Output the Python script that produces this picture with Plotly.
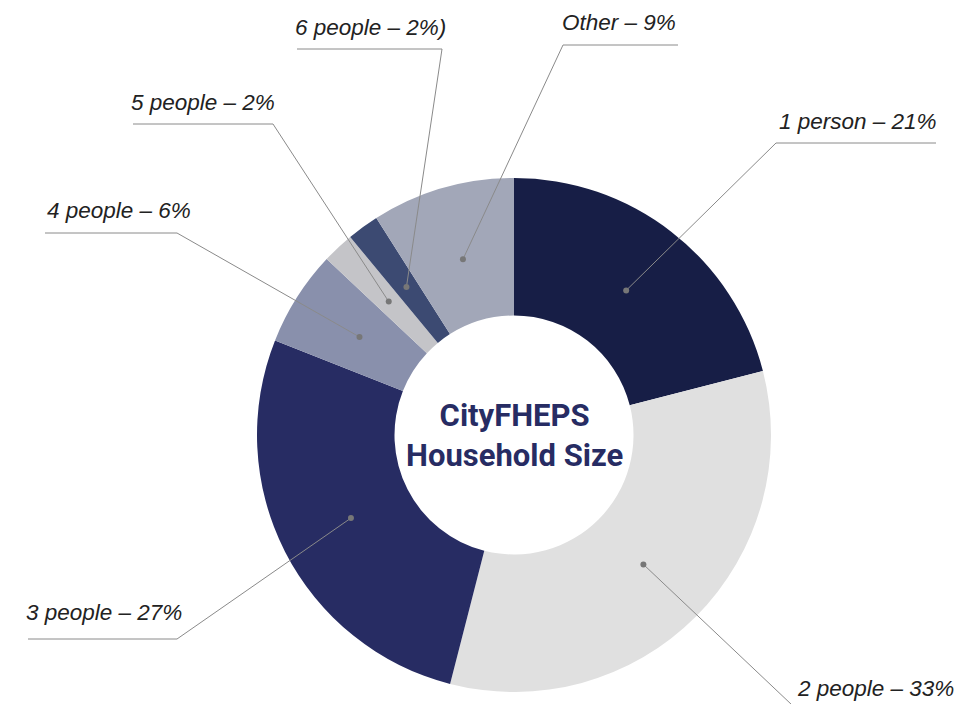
import math
import plotly.graph_objects as go

# ---- data ----
categories = ["1 person", "2 people", "3 people", "4 people", "5 people", "6 people", "Other"]
shares = [21, 33, 27, 6, 2, 2, 9]
label_texts = ["1 person – 21%", "2 people – 33%", "3 people – 27%", "4 people – 6%",
               "5 people – 2%", "6 people – 2%)", "Other – 9%"]
colors = ["#171E46", "#E0E0E0", "#272C63", "#8990AC", "#C4C4C8", "#3C4A72", "#A2A7B8"]

# ---- layout (pixel space of the 977x704 window) ----
W, H = 977, 704
O = 8  # page body margin
CX, CY, R_OUT = 514, 435, 257
HOLE = 0.465
R_DOT = 183
FW, FH = W - O, H - O
# label text anchor (x, y, xanchor) and leader elbow / end points
label_pos = [(777, 121, "left"), (795, 688, "left"), (24, 612, "left"), (45, 210, "left"),
             (129, 102, "left"), (293, 27, "left"), (678, 22, "right")]
elbows = [(776, 143), (810, 722), (177, 639), (177, 233), (273, 124), (442, 49), (563, 45)]
ends = [(936, 143), (960, 722), (28, 639), (45, 233), (133, 124), (297, 49), (678, 45)]

fig = go.Figure()
fig.add_trace(go.Pie(
    labels=categories, values=shares, sort=False, direction="clockwise", rotation=0,
    hole=HOLE, marker=dict(colors=colors, line=dict(width=0)),
    textinfo="none", hoverinfo="label+percent", showlegend=False,
    domain=dict(x=[(CX - R_OUT - O) / FW, (CX + R_OUT - O) / FW],
                y=[(H - CY - R_OUT) / FH, (H - CY + R_OUT) / FH]),
))
# invisible trace to activate the pixel-space axes
fig.add_trace(go.Scatter(x=[O, W], y=[O, H], mode="markers", marker=dict(opacity=0),
                         hoverinfo="skip", showlegend=False))

total = sum(shares)
cum = 0
for i, v in enumerate(shares):
    mid = (cum + v / 2) / total * 2 * math.pi
    cum += v
    dx = CX + R_DOT * math.sin(mid)
    dy = CY - R_DOT * math.cos(mid)
    (ex, ey), (fx, fy) = elbows[i], ends[i]
    fig.add_shape(type="path", path=f"M {dx},{dy} L {ex},{ey} L {fx},{fy}",
                  xref="x", yref="y", layer="above",
                  line=dict(color="#8a8a8a", width=1))
    fig.add_shape(type="circle", x0=dx - 3, x1=dx + 3, y0=dy - 3, y1=dy + 3,
                  xref="x", yref="y", layer="above",
                  fillcolor="#777777", line=dict(width=0))
    lx, ly, xa = label_pos[i]
    fig.add_annotation(x=lx, y=ly, xref="x", yref="y", text=label_texts[i],
                       xanchor=xa, yanchor="middle", showarrow=False,
                       font=dict(family="Liberation Sans, Arial, sans-serif", size=22.5,
                                 color="#222222", style="italic"))

fig.add_annotation(x=CX, y=CY, xref="x", yref="y",
                   text="<b>CityFHEPS<br>Household Size</b>", showarrow=False,
                   xanchor="center", yanchor="middle",
                   font=dict(family="Roboto, Arial, sans-serif",
                             size=31, color="#272C63"))

fig.update_layout(
    width=FW, height=FH, margin=dict(l=0, r=0, t=0, b=0),
    paper_bgcolor="white", plot_bgcolor="rgba(0,0,0,0)",
    xaxis=dict(range=[O, W], visible=False, domain=[0, 1], fixedrange=True),
    yaxis=dict(range=[H, O], visible=False, domain=[0, 1], fixedrange=True),
    showlegend=False,
)

fig.write_html("out.html")
